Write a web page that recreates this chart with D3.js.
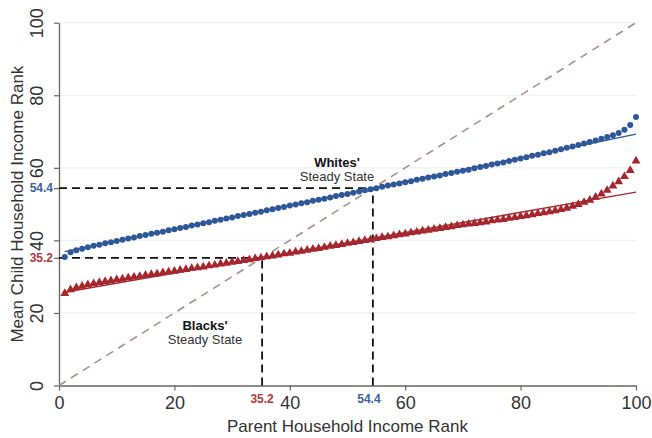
<!DOCTYPE html>
<html><head><meta charset="utf-8">
<script src="https://cdn.jsdelivr.net/npm/d3@7"></script>
<style>body{margin:0;background:#fff}svg{display:block;font-family:"Liberation Sans",Arial,sans-serif}</style>
</head><body><svg id="c" width="652" height="438"></svg>
<script>
const ranks = [1,2,3,4,5,6,7,8,9,10,11,12,13,14,15,16,17,18,19,20,21,22,23,24,25,26,27,28,29,30,31,32,33,34,35,36,37,38,39,40,41,42,43,44,45,46,47,48,49,50,51,52,53,54,55,56,57,58,59,60,61,62,63,64,65,66,67,68,69,70,71,72,73,74,75,76,77,78,79,80,81,82,83,84,85,86,87,88,89,90,91,92,93,94,95,96,97,98,99,100];
const whites = [35.4,36.7,37.3,37.7,38.1,38.5,38.8,39.2,39.5,39.8,
40.2,40.5,40.8,41.2,41.5,41.8,42.1,42.4,42.8,43.1,
43.4,43.7,44.1,44.4,44.7,45.0,45.4,45.7,46.0,46.3,
46.7,47.0,47.3,47.6,47.9,48.3,48.6,48.9,49.2,49.6,
49.9,50.2,50.5,50.9,51.2,51.5,51.8,52.2,52.5,52.8,
53.1,53.5,53.8,54.1,54.4,54.8,55.1,55.4,55.7,56.0,
56.3,56.7,57.0,57.3,57.6,57.9,58.3,58.6,58.9,59.2,
59.5,59.9,60.2,60.5,60.9,61.2,61.5,61.9,62.2,62.6,
62.9,63.3,63.6,64.0,64.3,64.7,65.1,65.5,65.9,66.3,
66.7,67.1,67.5,68.0,68.5,69.0,69.6,70.5,71.8,74.0];
const blacks = [25.4,26.4,27.0,27.4,27.8,28.1,28.4,28.7,28.9,29.2,
29.4,29.7,29.9,30.1,30.4,30.6,30.8,31.1,31.3,31.5,
31.8,32.0,32.3,32.5,32.7,33.0,33.2,33.5,33.7,34.0,
34.2,34.5,34.7,35.0,35.2,35.5,35.7,36.0,36.3,36.5,
36.8,37.0,37.3,37.6,37.8,38.1,38.4,38.6,38.9,39.2,
39.4,39.7,40.0,40.2,40.5,40.8,41.0,41.3,41.6,41.8,
42.1,42.3,42.6,42.8,43.1,43.3,43.6,43.8,44.1,44.3,
44.5,44.7,44.9,45.1,45.4,45.6,45.8,46.1,46.3,46.6,
46.8,47.1,47.4,47.6,47.9,48.2,48.5,48.9,49.4,49.9,
50.5,51.1,51.9,52.8,53.8,55.0,56.2,57.6,59.3,61.9];
const whitesFit = [[1, 36.9], [100, 69.3]];
const blacksFit = [[1, 25.7], [100, 53.3]];
const diagonal = [[0, 0], [100, 100]];
const steadyWhites = 54.4;
const steadyBlacks = 35.2;
const xTicks = [0, 20, 40, 60, 80, 100];
const yTicks = [0, 20, 40, 60, 80, 100];
const xTitle = "Parent Household Income Rank";
const yTitle = "Mean Child Household Income Rank";

const blue = "#2d5797", red = "#a5262c", axisCol = "#6a6462", txt = "#333";
const svg = d3.select("#c");
const x = d3.scaleLinear().domain([0, 100]).range([59, 636]);
const y = d3.scaleLinear().domain([0, 100]).range([385.5, 22.7]);

// gridlines
svg.append("g").selectAll("line").data(yTicks.slice(1)).join("line")
  .attr("x1", x(0)).attr("x2", x(100)).attr("y1", d => y(d)).attr("y2", d => y(d))
  .attr("stroke", "#edf1f5").attr("stroke-width", 1.2);

// axes
const xAxis = svg.append("g").attr("transform", `translate(0,${y(0)})`)
  .call(d3.axisBottom(x).tickValues(xTicks).tickSizeOuter(0).tickSizeInner(5).tickPadding(4));
const yAxis = svg.append("g").attr("transform", `translate(${x(0)},0)`)
  .call(d3.axisLeft(y).tickValues(yTicks.concat([steadyBlacks, steadyWhites])).tickSizeOuter(0).tickSizeInner(5).tickFormat(d => (d === steadyBlacks || d === steadyWhites) ? "" : d));
[xAxis, yAxis].forEach(g => {
  g.select(".domain").attr("stroke", axisCol).attr("stroke-width", 1.3);
  g.selectAll(".tick line").attr("stroke", axisCol).attr("stroke-width", 1.2);
  g.selectAll(".tick text").attr("fill", txt).style("font-size", "18px").style("font-family", "Liberation Sans, Arial, sans-serif");
});
xAxis.selectAll(".tick text").attr("dy", "0.71em").attr("y", 11);
yAxis.selectAll(".tick text").attr("transform", "rotate(-90)").attr("x", 0).attr("y", -16).attr("dy", 0).attr("text-anchor", "middle");

// diagonal
svg.append("path").datum(diagonal)
  .attr("d", d3.line().x(d => x(d[0])).y(d => y(d[1])))
  .attr("stroke", "#a8928c").attr("stroke-width", 1.6).attr("stroke-dasharray", "8,6").attr("fill", "none");

// steady state dashed lines
const dl = (x1, y1, x2, y2) => svg.append("line").attr("x1", x(x1)).attr("y1", y(y1)).attr("x2", x(x2)).attr("y2", y(y2))
  .attr("stroke", "#111").attr("stroke-width", 1.8).attr("stroke-dasharray", "8,5");
dl(0, steadyWhites, steadyWhites, steadyWhites);
dl(steadyWhites, 0, steadyWhites, steadyWhites);
dl(0, steadyBlacks, steadyBlacks, steadyBlacks);
dl(steadyBlacks, 0, steadyBlacks, steadyBlacks);

// fit lines
const line = d3.line().x(d => x(d[0])).y(d => y(d[1]));
svg.append("path").datum(whitesFit).attr("d", line).attr("stroke", blue).attr("stroke-width", 1.4).attr("fill", "none");
svg.append("path").datum(blacksFit).attr("d", line).attr("stroke", red).attr("stroke-width", 1.4).attr("fill", "none");

// points
svg.append("g").selectAll("circle").data(ranks).join("circle")
  .attr("cx", (d) => x(d)).attr("cy", (d, i) => y(whites[i])).attr("r", 3).attr("fill", blue);
const tri = d3.symbol().type(d3.symbolTriangle).size(34);
svg.append("g").selectAll("path").data(ranks).join("path")
  .attr("d", tri).attr("transform", (d, i) => `translate(${x(d)},${y(blacks[i])})`).attr("fill", red);

// value labels
const lab = (t, px, py, col, anchor) => svg.append("text").attr("x", px).attr("y", py).attr("fill", col)
  .attr("text-anchor", anchor).style("font-size", "12px").style("font-weight", "bold").text(t);
lab(steadyWhites.toFixed(1), 53, y(steadyWhites) + 4, "#3a62a3", "end");
lab(steadyBlacks.toFixed(1), 53, y(steadyBlacks) + 4, "#b2383c", "end");
lab(steadyBlacks.toFixed(1), x(steadyBlacks), 403, "#b2383c", "middle");
lab(steadyWhites.toFixed(1), x(steadyWhites) - 4, 403, "#3a62a3", "middle");

// annotations
const ann = (t1, t2, cx, cy) => {
  svg.append("text").attr("x", cx).attr("y", cy).attr("text-anchor", "middle").attr("fill", "#111")
    .style("font-size", "13px").style("font-weight", "bold").text(t1);
  svg.append("text").attr("x", cx).attr("y", cy + 14).attr("text-anchor", "middle").attr("fill", "#333")
    .style("font-size", "13px").text(t2);
};
ann("Whites'", "Steady State", 337, 167);
ann("Blacks'", "Steady State", 205, 330);

// titles
svg.append("text").attr("x", (x(0) + x(100)) / 2).attr("y", 432).attr("text-anchor", "middle")
  .attr("fill", txt).style("font-size", "17px").text(xTitle);
svg.append("text").attr("transform", `translate(23,${(y(0) + y(100)) / 2}) rotate(-90)`).attr("text-anchor", "middle")
  .attr("fill", txt).style("font-size", "17px").text(yTitle);
</script></body></html>
